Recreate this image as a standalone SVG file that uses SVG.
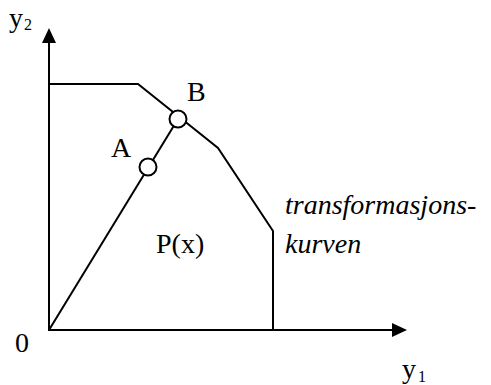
<svg xmlns="http://www.w3.org/2000/svg" width="491" height="385" viewBox="0 0 491 385">
<style>
.ln{fill:none;stroke:#000;stroke-width:2;stroke-linejoin:miter}
.pt{fill:#fff;stroke:#000;stroke-width:2}
.t{font-family:"Liberation Serif","Times New Roman",serif;font-size:28px;fill:#000}
.s{font-family:"Liberation Serif","Times New Roman",serif;font-size:16px;fill:#000}
.i{font-style:italic}
</style>
<rect width="491" height="385" fill="#fff"/>
<g id="connectors">
<path class="ln" d="M49,331 V40"/>
<path d="M49,28 L42,43 L56,43 Z" fill="#000"/>
<path class="ln" d="M48,330 H395"/>
<path d="M407,330 L392,323 L392,337 Z" fill="#000"/>
<path class="ln" d="M49,84 H138 L218,148 L273,231 V330"/>
<path class="ln" d="M49,330 L178,119"/>
</g>
<g id="A"><circle class="pt" cx="148" cy="167" r="8.5"/><text class="t" x="111" y="157">A</text></g>
<g id="B"><circle class="pt" cx="178" cy="119" r="8.5"/><text class="t" x="187" y="101">B</text></g>
<g id="P"><text class="t" x="156" y="253">P(x)</text></g>
<g id="curve-label"><text class="t i" x="285" y="214">transformasjons-</text><text class="t i" x="285" y="253">kurven</text></g>
<g id="origin"><text class="t" x="15" y="352">0</text></g>
<g id="y2"><text class="t" x="9" y="27">y</text><text class="s" x="24" y="30">2</text></g>
<g id="y1"><text class="t" x="402" y="378">y</text><text class="s" x="418" y="382">1</text></g>
</svg>
